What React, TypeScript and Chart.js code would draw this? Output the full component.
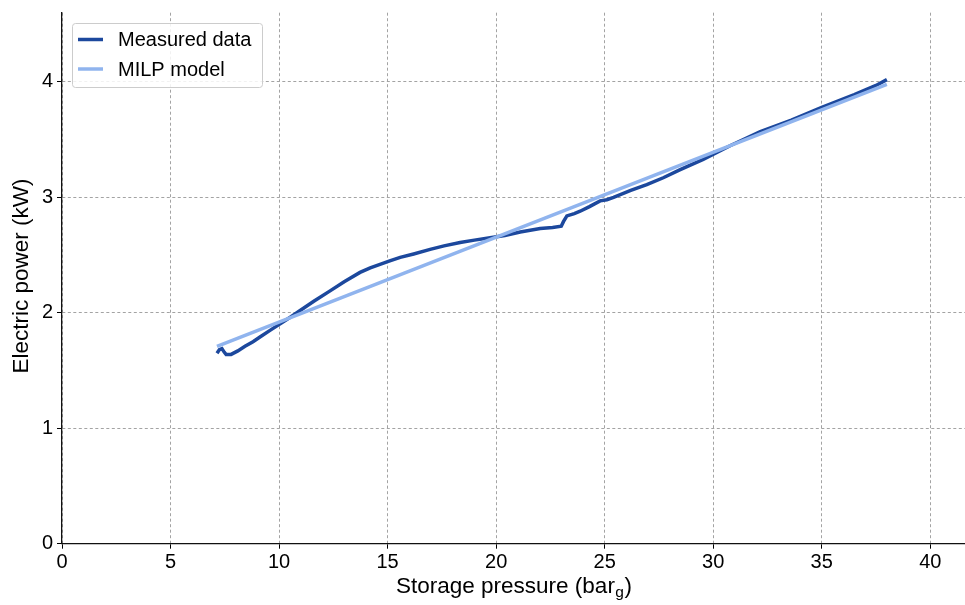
import React, { useEffect, useRef } from 'react';
import { Chart, registerables } from 'chart.js';

Chart.register(...registerables);

const FONT = '"Liberation Sans", Arial, sans-serif';

const measuredX = [7.14, 7.25, 7.37, 7.47, 7.56, 7.79, 8.1, 8.43, 8.8, 9.12, 9.6, 10.05, 10.5, 10.97, 11.6, 12.35, 13.0, 13.73, 14.2, 14.65, 15.1, 15.58, 16.2, 16.96, 17.6, 18.34, 19.0, 19.72, 20.4, 21.11, 22.03, 22.6, 23.0, 23.1, 23.26, 23.6, 23.87, 24.3, 24.79, 25.1, 25.41, 26.2, 26.94, 27.7, 28.48, 29.54, 30.8, 32.17, 33.6, 35.0, 36.5, 37.5, 38.0];
const measuredY = [1.65, 1.68, 1.69, 1.66, 1.64, 1.64, 1.67, 1.71, 1.75, 1.79, 1.85, 1.905, 1.96, 2.02, 2.1, 2.19, 2.27, 2.35, 2.39, 2.42, 2.45, 2.48, 2.51, 2.55, 2.58, 2.61, 2.63, 2.65, 2.67, 2.7, 2.73, 2.74, 2.75, 2.79, 2.84, 2.86, 2.88, 2.92, 2.97, 2.98, 3.0, 3.06, 3.11, 3.17, 3.24, 3.33, 3.45, 3.57, 3.67, 3.78, 3.89, 3.97, 4.02];

const modelX = [7.14, 38.0];
const modelY = [1.71, 3.98];

const xTicks = [0, 5, 10, 15, 20, 25, 30, 35, 40];
const yTicks = [0, 1, 2, 3, 4];

const X_MAX = 41.6;
const Y_MAX = 4.6;

const measuredColor = '#1c489d';
const modelColor = '#90b4ee';

const TITLE_SIZE = 22.5;
const SUB_SIZE = 15.5;

const overlayPlugin = {
  id: 'overlay',
  afterDraw(chart: any) {
    const ctx = chart.ctx as CanvasRenderingContext2D;
    const area = chart.chartArea;
    ctx.save();
    ctx.fillStyle = '#000';
    // X title with subscript
    const main = 'Storage pressure (bar';
    const close = ')';
    ctx.font = `${TITLE_SIZE}px ${FONT}`;
    const wMain = ctx.measureText(main).width;
    const wClose = ctx.measureText(close).width;
    ctx.font = `${SUB_SIZE}px ${FONT}`;
    const wSub = ctx.measureText('g').width;
    const total = wMain + wSub + wClose;
    const cx = (area.left + area.right) / 2;
    const x0 = cx - total / 2;
    const baseY = 592.5;
    ctx.textBaseline = 'alphabetic';
    ctx.textAlign = 'left';
    ctx.font = `${TITLE_SIZE}px ${FONT}`;
    ctx.fillText(main, x0, baseY);
    ctx.font = `${SUB_SIZE}px ${FONT}`;
    ctx.fillText('g', x0 + wMain + 0.5, baseY + 4);
    ctx.font = `${TITLE_SIZE}px ${FONT}`;
    ctx.fillText(close, x0 + wMain + wSub + 1, baseY);

    // Y title
    ctx.save();
    ctx.translate(28, 276);
    ctx.rotate(-Math.PI / 2);
    ctx.textAlign = 'center';
    ctx.textBaseline = 'alphabetic';
    ctx.font = `${TITLE_SIZE}px ${FONT}`;
    ctx.fillText('Electric power (kW)', 0, 0);
    ctx.restore();

    // Legend
    const lx = 72.5, ly = 23.5, lw = 190, lh = 64, r = 3;
    ctx.beginPath();
    ctx.moveTo(lx + r, ly);
    ctx.lineTo(lx + lw - r, ly);
    ctx.quadraticCurveTo(lx + lw, ly, lx + lw, ly + r);
    ctx.lineTo(lx + lw, ly + lh - r);
    ctx.quadraticCurveTo(lx + lw, ly + lh, lx + lw - r, ly + lh);
    ctx.lineTo(lx + r, ly + lh);
    ctx.quadraticCurveTo(lx, ly + lh, lx, ly + lh - r);
    ctx.lineTo(lx, ly + r);
    ctx.quadraticCurveTo(lx, ly, lx + r, ly);
    ctx.closePath();
    ctx.fillStyle = 'rgba(255,255,255,0.85)';
    ctx.fill();
    ctx.strokeStyle = '#cccccc';
    ctx.lineWidth = 1;
    ctx.stroke();

    const items = [
      { label: 'Measured data', color: measuredColor, y: 39.5 },
      { label: 'MILP model', color: modelColor, y: 69 },
    ];
    for (const it of items) {
      ctx.beginPath();
      ctx.moveTo(78, it.y);
      ctx.lineTo(103, it.y);
      ctx.strokeStyle = it.color;
      ctx.lineWidth = 3.5;
      ctx.stroke();
      ctx.fillStyle = '#000';
      ctx.font = `20px ${FONT}`;
      ctx.textAlign = 'left';
      ctx.textBaseline = 'middle';
      ctx.fillText(it.label, 118, it.y + 1);
    }
    ctx.restore();
  },
};

export default function App() {
  const ref = useRef<HTMLCanvasElement | null>(null);
  useEffect(() => {
    if (!ref.current) return;
    const measured = measuredX.map((x, i) => ({ x, y: measuredY[i] }));
    const model = modelX.map((x, i) => ({ x, y: modelY[i] }));
    const chart = new Chart(ref.current, {
      type: 'scatter',
      data: {
        datasets: [
          {
            label: 'Measured data',
            data: measured,
            showLine: true,
            borderColor: measuredColor,
            backgroundColor: measuredColor,
            borderWidth: 3.5,
            pointRadius: 0,
            tension: 0,
            order: 1,
          },
          {
            label: 'MILP model',
            data: model,
            showLine: true,
            borderColor: modelColor,
            backgroundColor: modelColor,
            borderWidth: 3.5,
            pointRadius: 0,
            order: 0,
          },
        ],
      },
      options: {
        responsive: false,
        animation: false,
        devicePixelRatio: 1,
        layout: { padding: { top: 12.7, right: 0, left: 0, bottom: 0 } },
        plugins: {
          legend: { display: false },
          tooltip: { enabled: false },
        },
        scales: {
          x: {
            type: 'linear',
            min: 0,
            max: X_MAX,
            afterBuildTicks: (s: any) => {
              s.ticks = xTicks.map((v) => ({ value: v }));
            },
            afterFit: (s: any) => {
              s.height = 61.3;
              s.paddingLeft = 0;
              s.paddingRight = 0;
            },
            grid: {
              color: '#a3a3a3',
              lineWidth: 1,
              drawTicks: true,
              tickLength: 5,
              tickColor: '#000',
              tickWidth: 1,
            },
            border: { display: true, color: '#111', width: 1.3, dash: [3, 2.5] },
            ticks: {
              color: '#000',
              font: { family: FONT, size: 20 },
              padding: 2,
              maxRotation: 0,
              autoSkip: false,
            },
          },
          y: {
            type: 'linear',
            min: 0,
            max: Y_MAX,
            afterBuildTicks: (s: any) => {
              s.ticks = yTicks.map((v) => ({ value: v }));
            },
            afterFit: (s: any) => {
              s.width = 62;
              s.paddingTop = 0;
              s.paddingBottom = 0;
            },
            grid: {
              color: '#a3a3a3',
              lineWidth: 1,
              drawTicks: true,
              tickLength: 5,
              tickColor: '#000',
              tickWidth: 1,
            },
            border: { display: true, color: '#111', width: 1.3, dash: [3, 2.5] },
            ticks: {
              color: '#000',
              font: { family: FONT, size: 20 },
              padding: 4,
              autoSkip: false,
            },
          },
        },
      },
      plugins: [overlayPlugin],
    });
    return () => chart.destroy();
  }, []);
  return (
    <div style={{ position: 'fixed', left: 0, top: 0, width: 965, height: 605, background: '#fff' }}>
      <canvas ref={ref} width={965} height={605} style={{ width: 965, height: 605, display: 'block' }} />
    </div>
  );
}
